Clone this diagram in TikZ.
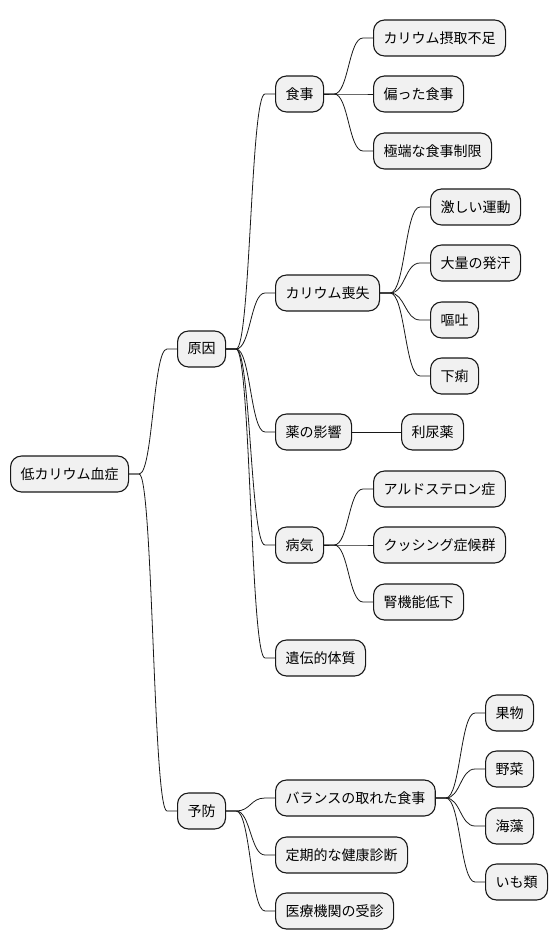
\documentclass[tikz,border=0pt]{standalone}
\usepackage{fontspec}
\setmainfont{Noto Sans CJK JP}
\usetikzlibrary{calc}
\definecolor{boxfill}{HTML}{F1F1F1}
\definecolor{boxline}{HTML}{181818}
\tikzset{
  mmbox/.style={draw=boxline, fill=boxfill, line width=1.1pt, rounded corners=11pt,
    anchor=west, minimum height=36pt, inner xsep=10pt, inner ysep=0pt,
    font=\fontsize{14}{16}\selectfont, text=black},
  mmline/.style={draw=boxline, line width=0.8pt}
}
\newcommand\mmlink[2]{%
  \draw[mmline] let \p1=([xshift=10pt]#1.east), \p2=([xshift=-10pt]#2.west) in
    (#1.east) -- (\p1) .. controls ({(\x1+\x2)/2},\y1) and ({(\x1+\x2)/2},\y2) .. (\p2) -- (#2.west);}
\begin{document}
\begin{tikzpicture}[x=1pt,y=-1pt]
\useasboundingbox (0,0) rectangle (558,949);
\node[mmbox] (root) at (10,474) {低カリウム血症};
\node[mmbox] (gen) at (177,349) {原因};
\node[mmbox] (yob) at (177,811) {予防};
\node[mmbox] (shoku) at (275,94) {食事};
\node[mmbox] (sou) at (275,293) {カリウム喪失};
\node[mmbox] (kusuri) at (275,432) {薬の影響};
\node[mmbox] (byo) at (275,545) {病気};
\node[mmbox] (iden) at (275,658) {遺伝的体質};
\node[mmbox] (s1) at (373,38) {カリウム摂取不足};
\node[mmbox] (s2) at (373,94) {偏った食事};
\node[mmbox] (s3) at (373,151) {極端な食事制限};
\node[mmbox] (k1) at (430,207) {激しい運動};
\node[mmbox] (k2) at (430,263) {大量の発汗};
\node[mmbox] (k3) at (430,320) {嘔吐};
\node[mmbox] (k4) at (430,376) {下痢};
\node[mmbox] (r1) at (401,432) {利尿薬};
\node[mmbox] (b1) at (373,489) {アルドステロン症};
\node[mmbox] (b2) at (373,545) {クッシング症候群};
\node[mmbox] (b3) at (373,602) {腎機能低下};
\node[mmbox] (y1) at (275,798) {バランスの取れた食事};
\node[mmbox] (y2) at (275,855) {定期的な健康診断};
\node[mmbox] (y3) at (275,911) {医療機関の受診};
\node[mmbox] (f1) at (485,713) {果物};
\node[mmbox] (f2) at (485,769) {野菜};
\node[mmbox] (f3) at (485,826) {海藻};
\node[mmbox] (f4) at (485,882) {いも類};
\mmlink{root}{gen}
\mmlink{root}{yob}
\mmlink{gen}{shoku}
\mmlink{gen}{sou}
\mmlink{gen}{kusuri}
\mmlink{gen}{byo}
\mmlink{gen}{iden}
\mmlink{shoku}{s1}
\mmlink{shoku}{s2}
\mmlink{shoku}{s3}
\mmlink{sou}{k1}
\mmlink{sou}{k2}
\mmlink{sou}{k3}
\mmlink{sou}{k4}
\draw[mmline] (kusuri.east) -- (r1.west);
\mmlink{byo}{b1}
\mmlink{byo}{b2}
\mmlink{byo}{b3}
\mmlink{yob}{y1}
\mmlink{yob}{y2}
\mmlink{yob}{y3}
\mmlink{y1}{f1}
\mmlink{y1}{f2}
\mmlink{y1}{f3}
\mmlink{y1}{f4}
\end{tikzpicture}
\end{document}
